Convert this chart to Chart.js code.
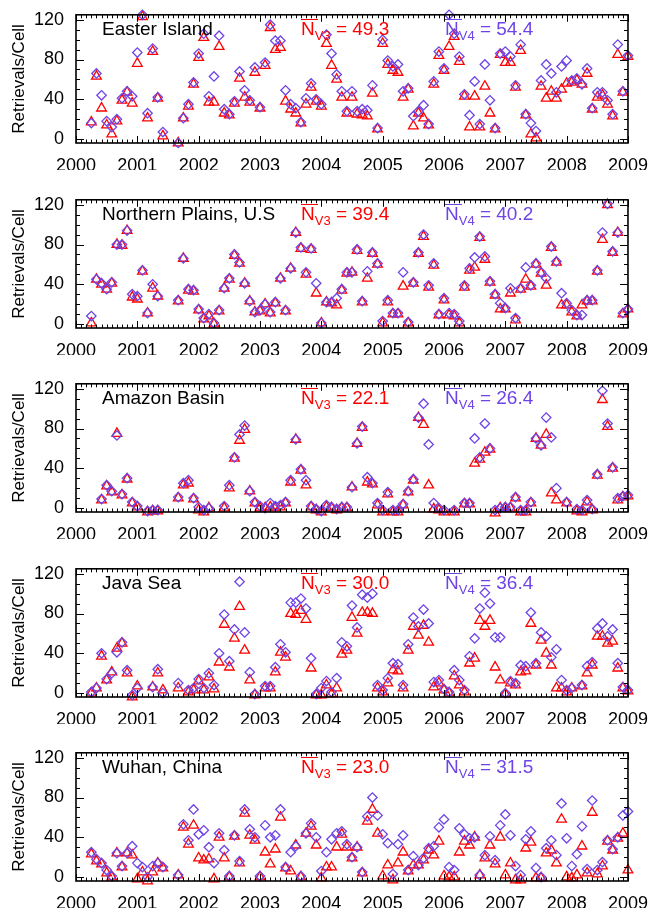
<!DOCTYPE html>
<html><head><meta charset="utf-8">
<script src="https://cdn.jsdelivr.net/npm/chart.js@4"></script>
<style>
html,body{margin:0;padding:0;background:#fff;}
#wrap{position:relative;width:652px;height:908px;overflow:hidden;font-family:"Liberation Sans",Arial,Helvetica,sans-serif;}
canvas{position:absolute;left:0;}
.lbl{position:absolute;font-size:19px;line-height:20px;white-space:nowrap;}
.ov{position:relative;}
.ov::after{content:"";position:absolute;left:0;right:-3px;top:1px;border-top:1.5px solid currentColor;}
.sub{font-size:13px;position:relative;top:5px;}
</style></head><body><div id="wrap"></div>
<script>
// ---------- data ----------
const yearTicks = [2000,2001,2002,2003,2004,2005,2006,2007,2008,2009];
const yTicks = [0,40,80,120];
const siteNames = ["Easter Island","Northern Plains, U.S","Amazon Basin","Java Sea","Wuhan, China"];
const meanV3 = ["49.3","39.4","22.1","30.0","23.0"];
const meanV4 = ["54.4","40.2","26.4","36.4","31.5"];
// monthly values, Jan 2000 ... Jan 2009 (one row per year)
const easterV3 = [
 null,null,null,17,63,31,14,5,18,39,47,36,
 76,123,21,88,41,3,null,null,-4,21,33,55,
 82,102,37,37,93,26,24,36,61,42,37,67,
 31,74,112,90,92,38,30,26,16,35,52,38,
 33,96,74,60,42,26,42,25,24,23,46,10,
 96,75,69,67,42,50,13,26,21,14,55,84,
 69,93,103,78,43,12,43,12,53,26,10,85,
 77,77,52,89,24,5,1,53,41,48,41,50,
 56,57,59,55,66,30,42,44,35,23,85,47,
 83];
const easterV4 = [
 null,null,null,16,66,44,18,12,20,41,48,43,
 87,125,26,91,42,7,null,null,-4,21,35,57,
 86,106,43,63,104,30,25,38,68,49,39,72,
 32,77,115,99,99,49,35,31,17,41,56,40,
 35,105,86,65,48,28,48,28,30,29,54,11,
 100,79,73,75,48,51,23,28,34,15,58,88,
 71,125,106,83,45,24,58,15,75,39,11,86,
 88,83,54,95,25,16,8,59,75,66,47,73,
 79,59,61,55,71,31,47,47,39,25,95,48,
 84];
const plainsV3 = [
 null,null,null,1,45,40,35,41,80,79,94,27,
 25,53,11,36,28,null,null,null,23,66,34,33,
 14,5,8,0,13,36,45,69,61,41,23,12,
 13,20,11,21,46,13,56,92,76,50,75,31,
 1,22,21,19,34,51,52,74,22,46,71,60,
 1,22,10,10,38,1,41,71,88,37,59,9,
 24,9,8,1,37,54,57,87,65,42,29,15,
 15,31,4,35,45,38,60,51,39,77,62,19,
 19,12,8,19,23,23,53,85,120,72,92,10,
 15];
const plainsV4 = [
 null,null,null,8,45,41,35,42,80,80,94,30,
 28,54,11,40,28,null,null,null,24,66,35,34,
 15,6,10,1,14,36,46,70,62,41,23,12,
 14,20,12,22,46,14,56,92,77,52,76,41,
 1,22,22,26,35,52,52,75,23,53,72,61,
 3,24,11,11,52,2,42,72,90,39,61,10,
 26,11,10,3,39,56,67,88,68,43,30,21,
 16,36,6,36,57,39,61,52,46,78,63,31,
 21,14,9,9,24,24,54,92,121,73,92,11,
 15];
const amazonV3 = [
 null,null,null,null,null,8,22,16,75,13,29,5,
 1,null,-4,-3,-3,null,null,null,10,23,25,9,
 -2,-4,0,null,null,0,20,50,68,79,17,5,
 0,0,1,0,1,5,26,69,38,23,1,-2,
 -4,1,0,-2,0,0,21,65,81,26,24,3,
 -4,14,-4,-4,3,16,28,91,84,23,-1,-2,
 -4,null,-4,null,4,4,45,49,56,59,-5,0,
 0,0,10,-4,-4,5,70,63,74,15,8,null,
 5,null,-3,-4,6,-2,33,109,82,40,8,11,
 12];
const amazonV4 = [
 null,null,null,null,null,9,23,17,73,14,30,6,
 2,null,-3,-2,-2,null,null,null,11,25,28,10,
 1,-2,0,null,null,2,23,51,74,83,17,6,
 2,0,5,2,3,6,28,69,39,28,2,-1,
 -3,3,1,-1,1,1,21,65,82,31,25,5,
 -2,16,-2,-2,4,17,29,91,105,64,5,0,
 -2,null,-2,null,5,5,70,51,85,60,-2,0,
 1,1,11,-2,-2,6,70,63,91,71,20,null,
 6,null,-1,-2,8,-1,34,118,85,41,10,12,
 13];
const javaV3 = [
 null,null,null,0,5,37,13,21,45,50,20,-4,
 7,null,null,6,20,3,null,null,5,null,1,3,
 12,3,16,4,31,69,26,55,87,43,13,-2,
 null,5,5,21,41,36,80,79,83,74,25,-2,
 -2,8,-1,5,39,43,76,60,81,81,80,5,
 1,10,23,22,5,43,67,58,68,51,6,10,
 3,0,17,8,1,30,35,73,67,73,26,13,
 -1,10,8,21,22,70,28,53,40,28,5,5,
 1,5,null,7,20,28,57,57,50,52,25,5,
 2];
const javaV4 = [
 null,null,null,1,5,40,14,20,41,51,23,-2,
 5,null,null,6,24,0,null,null,10,null,3,5,
 14,5,20,8,40,79,32,64,112,61,21,-1,
 null,7,7,26,49,41,91,91,95,85,35,-1,
 5,12,1,15,51,47,88,66,99,96,100,8,
 3,15,30,29,8,49,76,67,84,70,11,13,
 4,1,23,13,3,37,55,85,101,90,56,56,
 0,12,10,28,27,81,30,61,57,36,44,13,
 3,5,null,8,27,31,65,70,57,64,30,6,
 3];
const wuhanV3 = [
 null,null,null,23,16,13,4,0,24,10,24,22,
 -2,5,-4,5,14,9,null,null,2,50,33,52,
 19,17,18,-2,40,19,0,41,14,64,42,37,
 0,25,13,28,60,9,6,32,0,44,51,32,
 -1,10,10,30,43,30,19,30,4,56,68,44,
 1,12,-3,14,25,6,12,12,17,27,22,36,
 1,0,0,25,36,32,40,2,19,32,13,40,
 2,14,-3,-3,29,35,-1,-1,24,27,14,58,
 0,-1,2,31,4,65,3,11,36,27,39,44,
 7];
const wuhanV4 = [
 null,null,null,25,18,14,7,1,24,11,24,31,
 14,10,0,11,14,10,null,null,2,53,37,68,
 43,47,30,14,44,27,1,42,16,68,48,40,
 1,52,40,42,68,10,25,31,1,44,54,40,
 6,25,38,44,46,33,20,30,5,61,80,62,
 43,34,3,33,42,7,21,12,19,29,31,50,
 58,10,7,49,43,39,40,2,22,41,17,52,
 63,42,11,2,38,46,9,0,29,37,22,74,
 39,11,23,51,8,77,7,15,37,28,40,62,
 66];

const seriesV3 = [easterV3, plainsV3, amazonV3, javaV3, wuhanV3];
const seriesV4 = [easterV4, plainsV4, amazonV4, javaV4, wuhanV4];

// ---------- layout / style ----------
const RED = "#ff0000";
const PURPLE = "#6e44e6";
const FONT = "'Liberation Sans', Arial, Helvetica, sans-serif";
const plotTops = [14, 199, 383, 568, 752];
const CANVAS_H = 170;

const boxPlugin = {
  id: 'idlbox',
  afterDraw(chart) {
    const {ctx, chartArea: a, scales: {x, y}} = chart;
    ctx.save();
    ctx.strokeStyle = '#000';
    ctx.lineWidth = 1;
    ctx.beginPath();
    const nMonths = (yearTicks[yearTicks.length-1] - yearTicks[0]) * 12;
    for (let i = 0; i <= nMonths; i++) {
      const px = Math.round(x.getPixelForValue(yearTicks[0] + i / 12)) + 0.5;
      const len = (i % 12 === 0) ? 7 : 3.5;
      ctx.moveTo(px, a.bottom); ctx.lineTo(px, a.bottom - len);
      ctx.moveTo(px, a.top); ctx.lineTo(px, a.top + len);
    }
    for (let v = 0; v <= 120; v += 10) {
      const py = Math.round(y.getPixelForValue(v)) + 0.5;
      const len = (v % 40 === 0) ? 8 : 4;
      ctx.moveTo(a.left, py); ctx.lineTo(a.left + len, py);
      ctx.moveTo(a.right, py); ctx.lineTo(a.right - len, py);
    }
    ctx.stroke();
    ctx.lineWidth = 1.6;
    ctx.strokeRect(a.left, a.top, a.right - a.left, a.bottom - a.top);
    ctx.restore();
  }
};

function toPoints(arr) {
  const out = [];
  arr.forEach((v, i) => { if (v !== null) out.push({x: yearTicks[0] + i / 12, y: v}); });
  return out;
}

const wrap = document.getElementById('wrap');
for (let k = 0; k < 5; k++) {
  const cv = document.createElement('canvas');
  cv.width = 652; cv.height = CANVAS_H;
  cv.style.width = '652px'; cv.style.height = CANVAS_H + 'px';
  cv.style.top = (plotTops[k] - 14) + 'px';
  wrap.appendChild(cv);

  new Chart(cv.getContext('2d'), {
    type: 'scatter',
    data: { datasets: [
      { label: 'V4', data: toPoints(seriesV4[k]), pointStyle: 'rectRot', pointRadius: 4.7,
        borderColor: PURPLE, pointBorderColor: PURPLE, backgroundColor: 'rgba(0,0,0,0)',
        pointBackgroundColor: 'rgba(0,0,0,0)', borderWidth: 1.3, pointBorderWidth: 1.3, order: 0, clip: false },
      { label: 'V3', data: toPoints(seriesV3[k]), pointStyle: 'triangle', pointRadius: 5.6,
        borderColor: RED, pointBorderColor: RED, backgroundColor: 'rgba(0,0,0,0)',
        pointBackgroundColor: 'rgba(0,0,0,0)', borderWidth: 1.3, pointBorderWidth: 1.3, order: 1, clip: false }
    ]},
    options: {
      responsive: false, animation: false, devicePixelRatio: 1, events: [],
      layout: { padding: { left: 0, right: 22, top: 14, bottom: 0 } },
      plugins: { legend: { display: false }, tooltip: { enabled: false } },
      scales: {
        x: {
          type: 'linear', min: yearTicks[0], max: yearTicks[yearTicks.length-1],
          grid: { display: false }, border: { display: false },
          afterBuildTicks: s => { s.ticks = yearTicks.map(v => ({value: v})); },
          afterFit: s => { s.height = CANVAS_H - 14 - 129; },
          ticks: { color: '#000', font: { family: FONT, size: 18 }, padding: 4,
                   maxRotation: 0, autoSkip: false, callback: v => String(v) }
        },
        y: {
          min: -4, max: 125,
          grid: { display: false }, border: { display: false },
          afterBuildTicks: s => { s.ticks = yTicks.map(v => ({value: v})); },
          afterFit: s => { s.width = 76; },
          ticks: { color: '#000', font: { family: FONT, size: 18 }, padding: 4, callback: v => String(v) },
          title: { display: true, text: 'Retrievals/Cell', color: '#000',
                   font: { family: FONT, size: 17 }, padding: { top: 9, bottom: 0 } }
        }
      }
    },
    plugins: [boxPlugin]
  });

  const base = plotTops[k] + 21.5;
  const top = (base - 16.6) + 'px';
  const t = document.createElement('div');
  t.className = 'lbl'; t.style.left = '102px'; t.style.top = top; t.style.color = '#000';
  t.textContent = siteNames[k];
  wrap.appendChild(t);

  const a = document.createElement('div');
  a.className = 'lbl'; a.style.left = '301px'; a.style.top = top; a.style.color = RED;
  a.innerHTML = '<span class="ov">N</span><span class="sub">V3</span> = ' + meanV3[k];
  wrap.appendChild(a);

  const b = document.createElement('div');
  b.className = 'lbl'; b.style.left = '445px'; b.style.top = top; b.style.color = PURPLE;
  b.innerHTML = '<span class="ov">N</span><span class="sub">V4</span> = ' + meanV4[k];
  wrap.appendChild(b);
}
</script>
</body></html>
